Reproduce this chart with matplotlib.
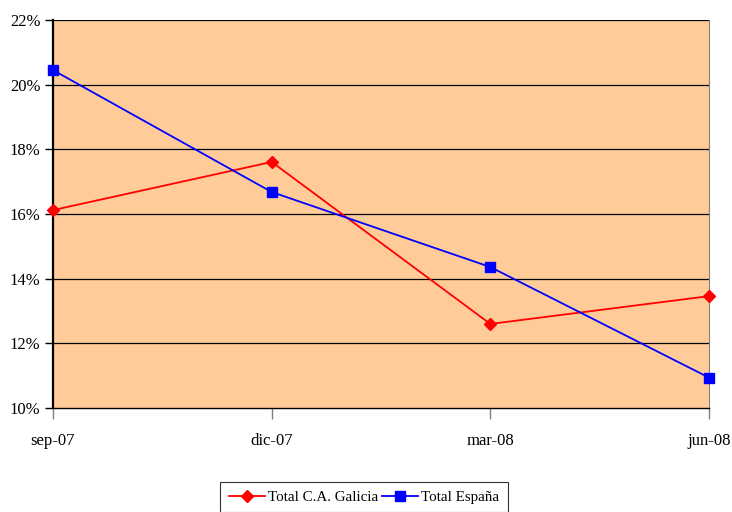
import numpy as np
import matplotlib.pyplot as plt
from matplotlib.ticker import FuncFormatter

plt.rcParams['font.family'] = ['Liberation Serif', 'DejaVu Serif']

# ================= datos =================
periodos = ["sep-07", "dic-07", "mar-08", "jun-08"]
galicia = [16.12, 17.61, 12.60, 13.46]
espana = [20.45, 16.68, 14.36, 10.94]
y_ticks = [10, 12, 14, 16, 18, 20, 22]
# =========================================

fig = plt.figure(figsize=(7.32, 5.12), dpi=100)
ax = fig.add_axes([0.0724, 0.2031, 0.8962, 0.7579])
ax.set_facecolor('#FFCC99')

x = np.arange(len(periodos))
ax.plot(x, galicia, color='#FF0000', lw=1.3, marker='D', ms=6.5,
        label='Total C.A. Galicia', clip_on=False, zorder=3)
ax.plot(x, espana, color='#0000FF', lw=1.3, marker='s', ms=6.5,
        label='Total España', clip_on=False, zorder=3)

ax.set_xlim(0, len(periodos) - 1)
ax.set_ylim(10, 22)
ax.set_yticks(y_ticks)
ax.yaxis.set_major_formatter(FuncFormatter(lambda v, p: f"{v:.0f}%"))
ax.set_xticks(x)
ax.set_xticklabels(periodos)

for v in y_ticks[1:]:
    ax.axhline(v, color='black', lw=0.9, zorder=1)

ax.spines['left'].set_color('black')
ax.spines['left'].set_linewidth(1.6)
ax.spines['bottom'].set_color('black')
ax.spines['bottom'].set_linewidth(1.0)
ax.spines['right'].set_color('#808080')
ax.spines['top'].set_visible(False)

ax.tick_params(axis='y', length=6, width=1, labelsize=12, pad=3)
ax.tick_params(axis='x', length=8, width=1, color='#808080', labelsize=12, pad=10)

leg = fig.legend(loc='lower center', bbox_to_anchor=(0.4975, -0.012), ncol=2,
                 fontsize=10.8, frameon=True, fancybox=False, handlelength=2.4,
                 handletextpad=0.2, columnspacing=0.3, borderpad=0.55,
                 borderaxespad=0.4)
leg.get_frame().set_edgecolor('black')
leg.get_frame().set_linewidth(0.8)

fig.savefig('out.png', dpi=100)
